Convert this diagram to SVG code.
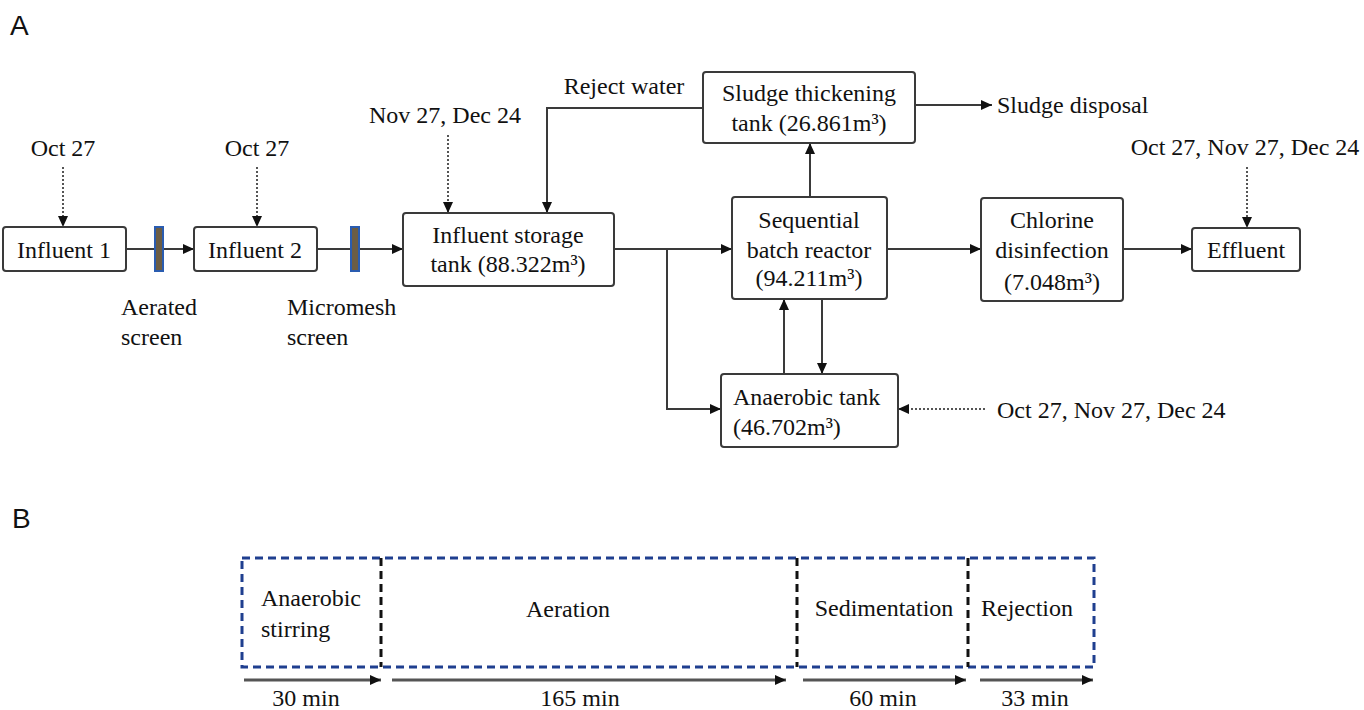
<svg xmlns="http://www.w3.org/2000/svg" width="1364" height="710" viewBox="0 0 1364 710">
<style>
.t{font-family:"Liberation Serif","Times New Roman",serif;font-size:24px;fill:#111}
.m{text-anchor:middle}
.lbl{font-family:"Liberation Sans",Arial,sans-serif;font-size:28px;fill:#111}
.box{fill:#fff;stroke:#3a3a3a;stroke-width:2}
.ln{fill:none;stroke:#3a3a3a;stroke-width:2}
.dot{fill:none;stroke:#555;stroke-width:2;stroke-dasharray:2 2}
.scr{fill:#6b5d45;stroke:#2a5cb0;stroke-width:2}
.tl{fill:none;stroke:#555;stroke-width:3}
.bd{fill:none;stroke:#1f3f8f;stroke-width:3;stroke-dasharray:8 5}
.kd{fill:none;stroke:#111;stroke-width:3;stroke-dasharray:8 5}
</style>
<defs>
<marker id="ah" markerUnits="userSpaceOnUse" markerWidth="11" markerHeight="10" refX="11" refY="5" orient="auto">
<path d="M0,0 L11,5 L0,10 z" fill="#111"/>
</marker>
</defs>
<rect width="1364" height="710" fill="#fff"/>
<text class="lbl" x="10" y="35">A</text>
<text class="lbl" x="12" y="528">B</text>

<g id="connectors">
<line class="ln" x1="126" y1="249" x2="194" y2="249" marker-end="url(#ah)"/>
<line class="ln" x1="317" y1="249" x2="403" y2="249" marker-end="url(#ah)"/>
<line class="ln" x1="614" y1="249" x2="732" y2="249" marker-end="url(#ah)"/>
<polyline class="ln" points="667,249 667,409 721,409" marker-end="url(#ah)"/>
<line class="ln" x1="887" y1="249" x2="981" y2="249" marker-end="url(#ah)"/>
<line class="ln" x1="1123" y1="249" x2="1192" y2="249" marker-end="url(#ah)"/>
<line class="ln" x1="810" y1="197" x2="810" y2="143" marker-end="url(#ah)"/>
<line class="ln" x1="915" y1="105" x2="992" y2="105" marker-end="url(#ah)"/>
<polyline class="ln" points="703,108 547,108 547,213" marker-end="url(#ah)"/>
<line class="ln" x1="784" y1="374" x2="784" y2="299" marker-end="url(#ah)"/>
<line class="ln" x1="822" y1="299" x2="822" y2="374" marker-end="url(#ah)"/>
<line class="dot" x1="63" y1="167" x2="63" y2="227" marker-end="url(#ah)"/>
<line class="dot" x1="257" y1="167" x2="257" y2="227" marker-end="url(#ah)"/>
<line class="dot" x1="448" y1="135" x2="448" y2="213" marker-end="url(#ah)"/>
<line class="dot" x1="1247" y1="167" x2="1247" y2="228" marker-end="url(#ah)"/>
<line class="dot" x1="985" y1="409" x2="898" y2="409" marker-end="url(#ah)"/>
</g>

<g id="screen1"><rect class="scr" x="155" y="227" width="8" height="44"/></g>
<g id="screen2"><rect class="scr" x="351" y="227" width="8" height="44"/></g>

<g id="influent1"><rect class="box" x="3" y="227" width="123" height="44" rx="3"/><text class="t m" x="64" y="258">Influent 1</text></g>
<g id="influent2"><rect class="box" x="194" y="227" width="123" height="44" rx="3"/><text class="t m" x="255" y="258">Influent 2</text></g>
<g id="storage"><rect class="box" x="403" y="213" width="211" height="73" rx="3"/><text class="t m" x="508" y="243">Influent storage</text><text class="t m" x="508" y="272">tank (88.322m³)</text></g>
<g id="thickening"><rect class="box" x="703" y="72" width="212" height="71" rx="3"/><text class="t m" x="809" y="101">Sludge thickening</text><text class="t m" x="809" y="131">tank (26.861m³)</text></g>
<g id="sbr"><rect class="box" x="732" y="197" width="155" height="102" rx="3"/><text class="t m" x="809" y="228">Sequential</text><text class="t m" x="809" y="258">batch reactor</text><text class="t m" x="809" y="286">(94.211m³)</text></g>
<g id="chlorine"><rect class="box" x="981" y="198" width="142" height="103" rx="3"/><text class="t m" x="1052" y="228">Chlorine</text><text class="t m" x="1052" y="258">disinfection</text><text class="t m" x="1052" y="290">(7.048m³)</text></g>
<g id="effluent"><rect class="box" x="1192" y="228" width="108" height="43" rx="3"/><text class="t m" x="1246" y="258">Effluent</text></g>
<g id="anaerobic"><rect class="box" x="721" y="374" width="177" height="73" rx="3"/><text class="t" x="733" y="405">Anaerobic tank</text><text class="t" x="733" y="435">(46.702m³)</text></g>

<g id="labels">
<text class="t m" x="63" y="156">Oct 27</text>
<text class="t m" x="257" y="156">Oct 27</text>
<text class="t m" x="445" y="123">Nov 27, Dec 24</text>
<text class="t m" x="624" y="94">Reject water</text>
<text class="t" x="997" y="113">Sludge disposal</text>
<text class="t m" x="1245" y="155">Oct 27, Nov 27, Dec 24</text>
<text class="t" x="997" y="418">Oct 27, Nov 27, Dec 24</text>
<text class="t" x="121" y="315">Aerated</text>
<text class="t" x="121" y="345">screen</text>
<text class="t" x="287" y="315">Micromesh</text>
<text class="t" x="287" y="345">screen</text>
</g>

<g id="cycle">
<rect class="bd" x="242" y="558" width="852" height="109"/>
<line class="kd" x1="381" y1="558" x2="381" y2="667"/>
<line class="kd" x1="797" y1="558" x2="797" y2="667"/>
<line class="kd" x1="968" y1="558" x2="968" y2="667"/>
<text class="t" x="261" y="606">Anaerobic</text>
<text class="t" x="261" y="637">stirring</text>
<text class="t m" x="568" y="617">Aeration</text>
<text class="t m" x="884" y="616">Sedimentation</text>
<text class="t m" x="1027" y="616">Rejection</text>
<line class="tl" x1="244" y1="680" x2="381" y2="680" marker-end="url(#ah)"/>
<line class="tl" x1="392" y1="680" x2="786" y2="680" marker-end="url(#ah)"/>
<line class="tl" x1="803" y1="680" x2="966" y2="680" marker-end="url(#ah)"/>
<line class="tl" x1="980" y1="680" x2="1093" y2="680" marker-end="url(#ah)"/>
<text class="t m" x="306" y="706">30 min</text>
<text class="t m" x="580" y="706">165 min</text>
<text class="t m" x="883" y="706">60 min</text>
<text class="t m" x="1035" y="706">33 min</text>
</g>
</svg>
